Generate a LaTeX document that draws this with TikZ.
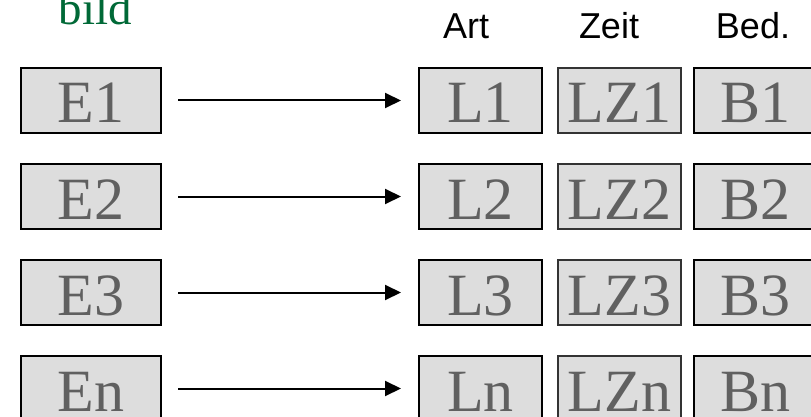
\documentclass[tikz,border=0pt]{standalone}
\usepackage{fontspec}
\setmainfont{Liberation Serif}
\newfontfamily\hdrfont{Liberation Sans}
\usetikzlibrary{arrows.meta}
\definecolor{boxfill}{HTML}{DDDDDD}
\definecolor{boxtext}{HTML}{606060}
\definecolor{bildgreen}{RGB}{0,105,55}
\tikzset{
  cell/.style={draw=black, line width=2pt, fill=boxfill, inner sep=0pt,
    minimum height=65pt, text height=45pt, text depth=0pt, text=boxtext,
    font=\fontsize{60}{72}\selectfont},
  ecell/.style={cell, minimum width=140pt},
  lcell/.style={cell, minimum width=123pt},
  zcell/.style={cell, minimum width=123pt, draw=black!80, line width=1.3pt},
  hdr/.style={anchor=base, inner sep=0pt, font=\hdrfont\fontsize{36}{43}\selectfont},
  conn/.style={line width=2pt, -{Triangle[length=16pt,width=15pt]},
    shorten <=16pt, shorten >=17pt}
}
\begin{document}
\begin{tikzpicture}[x=1pt,y=-1pt]
\clip (0,0) rectangle (811,417);
\fill[white] (0,0) rectangle (811,417);
\node[anchor=base, inner sep=0pt, text=bildgreen, font=\fontsize{47}{56}\selectfont] (bild) at (95.5,25) {bild};
\node[hdr] (hart) at (466,39) {Art};
\node[hdr] (hzeit) at (609,39) {Zeit};
\node[hdr] (hbed) at (753,39) {Bed.};
\foreach \i/\y in {1/100.5,2/196.5,3/292.5,n/388.5}{
  \node[ecell] (E\i) at (91,\y) {E\i};
  \node[lcell] (L\i) at (480.5,\y) {L\i};
  \node[zcell] (LZ\i) at (619.5,\y) {LZ\i};
  \node[lcell] (B\i) at (755.5,\y) {B\i};
  \draw[conn] (E\i.east) -- (L\i.west);
}
\end{tikzpicture}
\end{document}
